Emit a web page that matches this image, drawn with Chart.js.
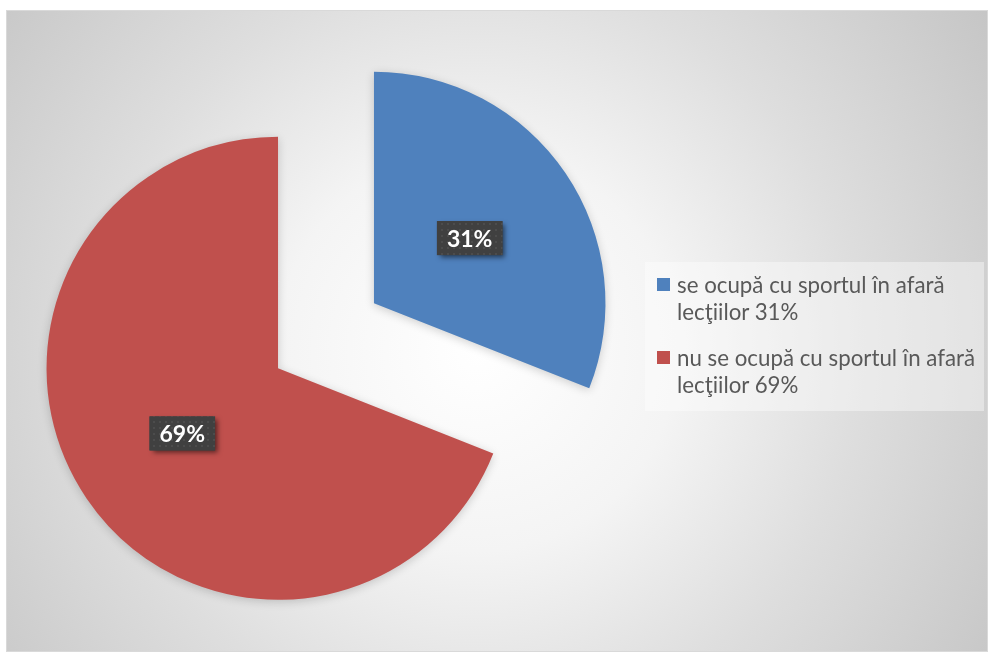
<!DOCTYPE html>
<html>
<head>
<meta charset="utf-8">
<script src="https://cdn.jsdelivr.net/npm/chart.js@4.4.0/dist/chart.umd.min.js"></script>
<style>
  html, body { margin: 0; padding: 0; background: #fff; }
  #frame {
    position: absolute; left: 6px; top: 10px; width: 980px; height: 640px;
    border: 1px solid #d9d9d9;
    background: radial-gradient(circle at 470px 340px, #ffffff 0px, #f4f4f4 200px, #dedede 380px, #c5c5c5 620px);
  }
  #chart { position: absolute; left: 0; top: 0; }
  #legend {
    position: absolute; left: 638px; top: 251px; width: 339px; height: 149px;
    background: rgba(255, 255, 255, 0.4);
    font-family: Lato, sans-serif; font-size: 22.3px; line-height: 27px; color: #595959;
  }
  .item { position: absolute; left: 32px; width: 306px; }
  .box { position: absolute; left: -20px; top: 7px; width: 13px; height: 13px; }
</style>
</head>
<body>
<div id="frame">
  <canvas id="chart" width="980" height="640"></canvas>
  <div id="legend"></div>
</div>
<script>
  const labels = ['se ocupă cu sportul în afară lecţiilor', 'nu se ocupă cu sportul în afară lecţiilor'];
  const valores = [31, 69];
  const colores = ['#4F81BD', '#C0504D'];

  // pulls every slice outwards along its own bisector
  const explode = {
    id: 'explode',
    afterDatasetsUpdate(chart, args, opts) {
      chart.getDatasetMeta(0).data.forEach(arc => {
        const mid = (arc.startAngle + arc.endAngle) / 2;
        arc.x += Math.cos(mid) * opts.distance;
        arc.y += Math.sin(mid) * opts.distance;
      });
    }
  };

  // soft shadow under the slices
  const sliceShadow = {
    id: 'sliceShadow',
    beforeDatasetsDraw(chart) {
      const ctx = chart.ctx;
      ctx.save();
      ctx.shadowColor = 'rgba(0, 0, 0, 0.18)';
      ctx.shadowBlur = 10;
      ctx.shadowOffsetX = 0;
      ctx.shadowOffsetY = 2;
    },
    afterDatasetsDraw(chart) {
      chart.ctx.restore();
    }
  };

  // dark dotted fill for the percentage boxes
  const dots = document.createElement('canvas');
  dots.width = 6; dots.height = 6;
  const dctx = dots.getContext('2d');
  dctx.fillStyle = '#404040';
  dctx.fillRect(0, 0, 6, 6);
  dctx.fillStyle = '#4c4c4c';
  dctx.fillRect(2, 2, 2, 2);

  const sliceLabels = {
    id: 'sliceLabels',
    afterDatasetsDraw(chart) {
      const ctx = chart.ctx;
      const pattern = ctx.createPattern(dots, 'repeat');
      chart.getDatasetMeta(0).data.forEach((arc, i) => {
        const mid = (arc.startAngle + arc.endAngle) / 2;
        const r = arc.outerRadius * 0.5;
        const x = arc.x + Math.cos(mid) * r;
        const y = arc.y + Math.sin(mid) * r;
        const text = valores[i] + '%';
        ctx.save();
        ctx.font = 'bold 23px Lato';
        const w = ctx.measureText(text).width + 20;
        const h = 34;
        ctx.shadowColor = 'rgba(0, 0, 0, 0.55)';
        ctx.shadowBlur = 5;
        ctx.shadowOffsetX = 3;
        ctx.shadowOffsetY = 3;
        ctx.fillStyle = '#404040';
        ctx.fillRect(x - w / 2, y - h / 2, w, h);
        ctx.shadowColor = 'transparent';
        ctx.fillStyle = pattern;
        ctx.fillRect(x - w / 2, y - h / 2, w, h);
        ctx.fillStyle = '#ffffff';
        ctx.textAlign = 'center';
        ctx.textBaseline = 'middle';
        ctx.fillText(text, x, y + 1);
        ctx.restore();
      });
    }
  };

  const data = {
    labels: labels,
    datasets: [{
      data: valores,
      backgroundColor: colores,
      borderWidth: 0
    }]
  };

  const config = {
    type: 'pie',
    data: data,
    options: {
      responsive: false,
      animation: false,
      events: [],
      layout: { padding: { left: 87.5, top: 93.25, right: 429.5, bottom: 83.75 } },
      plugins: {
        legend: { display: false },
        tooltip: { enabled: false },
        explode: { distance: 58 }
      }
    },
    plugins: [explode, sliceShadow, sliceLabels]
  };

  const myChart = new Chart(document.getElementById('chart'), config);

  // legend built from the same arrays
  const legend = document.getElementById('legend');
  const tops = [9, 82];
  labels.forEach((label, i) => {
    const item = document.createElement('div');
    item.className = 'item';
    item.style.top = tops[i] + 'px';
    const box = document.createElement('span');
    box.className = 'box';
    box.style.background = colores[i];
    item.appendChild(box);
    item.appendChild(document.createTextNode(label + ' ' + valores[i] + '%'));
    legend.appendChild(item);
  });
</script>
</body>
</html>
